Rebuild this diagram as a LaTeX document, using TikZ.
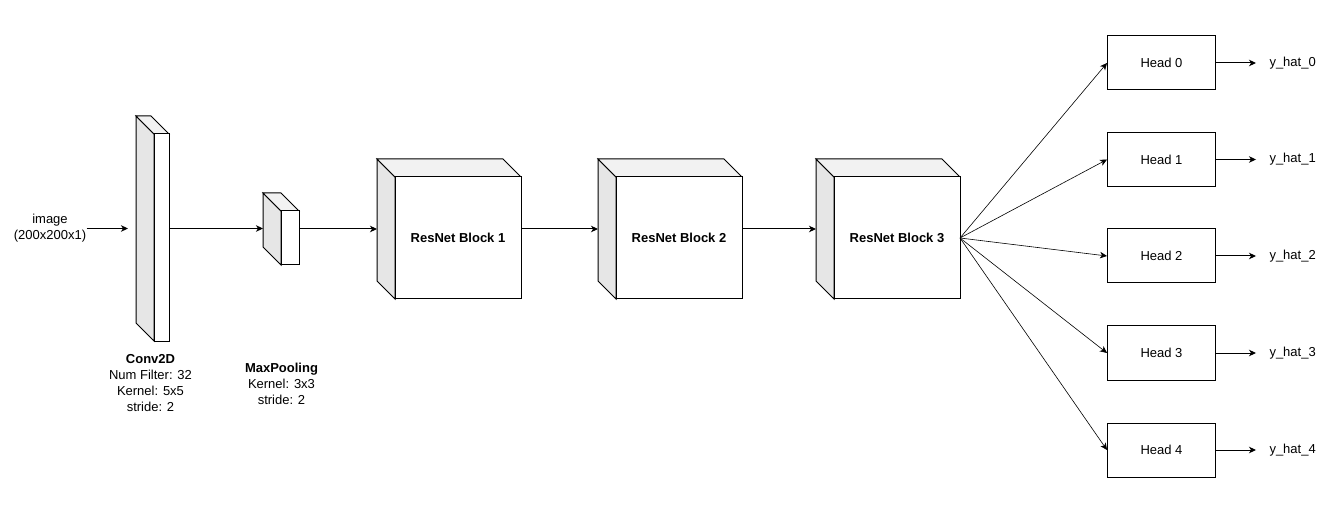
\documentclass[tikz,border=0pt]{standalone}
\usepackage{fontspec}
\setmainfont{Liberation Sans}
\usepackage{tikz}
\usetikzlibrary{calc,positioning,arrows.meta}
\definecolor{sideface}{HTML}{E6E6E6}
\definecolor{topface}{HTML}{F2F2F2}

\begin{document}
\begin{tikzpicture}[
    % GLOBAL CFG
    x=1pt, y=-1pt,
    font=\fontsize{13}{16}\selectfont,
    >={Stealth[length=7pt,width=6.5pt,inset=2pt]},
    line width=1pt,
    % Styles
    cube/.style={% bounding box of a 3d block, faces drawn after
        rectangle,
        inner sep=0pt,
        outer sep=0pt,
        },
    front/.style={% front face of a block
        draw,
        fill=white,
        },
    side/.style={% left face of a block
        draw,
        fill=sideface,
        },
    topside/.style={% top face of a block
        draw,
        fill=topface,
        },
    head/.style={% For the output heads
        rectangle,
        draw,
        minimum width=108pt,
        minimum height=54pt,
        },
    caption/.style={% text under a block
        align=center,
        inner sep=0pt,
        },
    outlabel/.style={% For the outputs y_hat
        anchor=west,
        inner xsep=13pt,
        inner ysep=0pt,
        },
    ]

    \useasboundingbox (0,0) rectangle (1343,510);

%Start drawing the thing...
    % Input
    \node [caption] (img) at (50,228.5) {image\\(200x200x1)};

    % Draw the blocks: bounding nodes named conv, pool, b#
    \node [cube, minimum width=33pt, minimum height=225pt] (conv) at (152.5,228.5) {};
    \node [cube, minimum width=36pt, minimum height=72pt] (pool) at (281,229) {};
    \node [cube, minimum width=144pt, minimum height=140pt] (b1) at (449,229) {};
    \node [cube, minimum width=144pt, minimum height=140pt] (b2) at (670,229) {};
    \node [cube, minimum width=144pt, minimum height=140pt] (b3) at (888,229) {};

    % Faces of the blocks (depth 18)
    \draw [side] (conv.north west) -- ++(18,18) -- ($(conv.south west)+(18,0)$) -- ++(-18,-18) -- cycle;
    \draw [topside] (conv.north west) -- ($(conv.north east)+(-18,0)$) -- ++(18,18) -- ($(conv.north west)+(18,18)$) -- cycle;
    \draw [front] ($(conv.north west)+(18,18)$) rectangle (conv.south east);

    \draw [side] (pool.north west) -- ++(18,18) -- ($(pool.south west)+(18,0)$) -- ++(-18,-18) -- cycle;
    \draw [topside] (pool.north west) -- ($(pool.north east)+(-18,0)$) -- ++(18,18) -- ($(pool.north west)+(18,18)$) -- cycle;
    \draw [front] ($(pool.north west)+(18,18)$) rectangle (pool.south east);

    \draw [side] (b1.north west) -- ++(18,18) -- ($(b1.south west)+(18,0)$) -- ++(-18,-18) -- cycle;
    \draw [topside] (b1.north west) -- ($(b1.north east)+(-18,0)$) -- ++(18,18) -- ($(b1.north west)+(18,18)$) -- cycle;
    \draw [front] ($(b1.north west)+(18,18)$) rectangle (b1.south east);

    \draw [side] (b2.north west) -- ++(18,18) -- ($(b2.south west)+(18,0)$) -- ++(-18,-18) -- cycle;
    \draw [topside] (b2.north west) -- ($(b2.north east)+(-18,0)$) -- ++(18,18) -- ($(b2.north west)+(18,18)$) -- cycle;
    \draw [front] ($(b2.north west)+(18,18)$) rectangle (b2.south east);

    \draw [side] (b3.north west) -- ++(18,18) -- ($(b3.south west)+(18,0)$) -- ++(-18,-18) -- cycle;
    \draw [topside] (b3.north west) -- ($(b3.north east)+(-18,0)$) -- ++(18,18) -- ($(b3.north west)+(18,18)$) -- cycle;
    \draw [front] ($(b3.north west)+(18,18)$) rectangle (b3.south east);

    % Block texts
    \node [font=\fontsize{13}{16}\selectfont\bfseries] (b1text) at ($(b1.center)+(9,9)$) {ResNet Block 1};
    \node [font=\fontsize{13}{16}\selectfont\bfseries] (b2text) at ($(b2.center)+(9,9)$) {ResNet Block 2};
    \node [font=\fontsize{13}{16}\selectfont\bfseries] (b3text) at ($(b3.center)+(9,9)$) {ResNet Block 3};
    \node [caption] (convtext) at (150.5,383) {\textbf{Conv2D}\\Num Filter: 32\\Kernel: 5x5\\stride: 2};
    \node [caption] (pooltext) at (281.5,383.5) {\textbf{MaxPooling}\\Kernel: 3x3\\stride: 2};

    % Draw the heads named head#
    \node [head] (head0) at (1161.5,63) {Head 0};
    \node [head] (head1) at (1161.5,159.5) {Head 1};
    \node [head] (head2) at (1161.5,256) {Head 2};
    \node [head] (head3) at (1161.5,353) {Head 3};
    \node [head] (head4) at (1161.5,450) {Head 4};

    % Outputs
    \node [outlabel] (yhat0) at (1256,63) {y\_hat\_0};
    \node [outlabel] (yhat1) at (1256,159.5) {y\_hat\_1};
    \node [outlabel] (yhat2) at (1256,256) {y\_hat\_2};
    \node [outlabel] (yhat3) at (1256,353) {y\_hat\_3};
    \node [outlabel] (yhat4) at (1256,450) {y\_hat\_4};

    % Start connecting all.
    \draw [->, shorten >=8pt] (img) -- (conv);
    \draw [->] (conv.east) -- (conv.east -| pool.west);
    \draw [->] (pool) -- (b1);
    \draw [->] (b1) -- (b2);
    \draw [->] (b2) -- (b3);

    % Fan out to the heads
    \coordinate (fan) at ($(b3.east)+(0,9)$);
    \draw [->, line width=0.6pt] (fan) -- (head0.west);
    \draw [->, line width=0.6pt] (fan) -- (head1.west);
    \draw [->, line width=0.6pt] (fan) -- (head2.west);
    \draw [->, line width=0.6pt] (fan) -- (head3.west);
    \draw [->, line width=0.6pt] (fan) -- (head4.west);

    %Outputs
    \draw [->] (head0) -- (yhat0);
    \draw [->] (head1) -- (yhat1);
    \draw [->] (head2) -- (yhat2);
    \draw [->] (head3) -- (yhat3);
    \draw [->] (head4) -- (yhat4);

\end{tikzpicture}
\end{document}
